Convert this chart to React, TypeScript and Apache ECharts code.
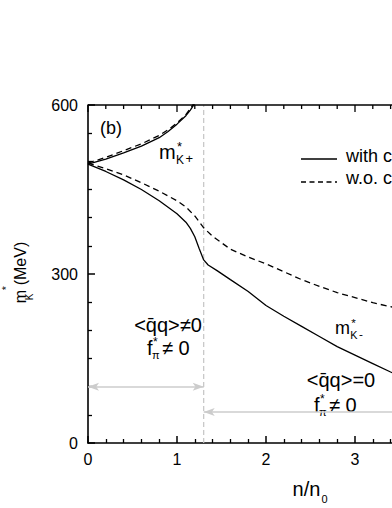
import React, { useEffect, useRef } from "react";
import * as echarts from "echarts";

const FONT = '"Liberation Sans", Arial, Helvetica, sans-serif';

// n/n0 vs effective kaon mass (MeV)
const kPlusWith: [number, number][] = [
  [0, 495], [0.2, 504], [0.4, 515], [0.6, 527], [0.8, 542], [0.9, 553],
  [1.0, 566], [1.1, 581], [1.15, 591], [1.2, 603],
];
const kPlusWithout: [number, number][] = [
  [0, 497], [0.2, 507], [0.4, 519], [0.6, 531], [0.8, 546], [0.9, 556],
  [1.0, 568], [1.1, 583], [1.19, 603],
];
const kMinusWith: [number, number][] = [
  [0, 495], [0.2, 482], [0.4, 467], [0.6, 450], [0.8, 430], [1.0, 407],
  [1.1, 392], [1.15, 381], [1.2, 366], [1.25, 345], [1.3, 325], [1.35, 316],
  [1.45, 306], [1.6, 290], [1.8, 269], [2.0, 244], [2.2, 225], [2.4, 207],
  [2.6, 189], [2.8, 171], [3.0, 156], [3.2, 141], [3.4, 126], [3.6, 112],
  [3.8, 99], [4.0, 87],
];
const kMinusWithout: [number, number][] = [
  [0, 497], [0.2, 487], [0.4, 476], [0.6, 462], [0.8, 447], [1.0, 430],
  [1.1, 419], [1.2, 403], [1.3, 382], [1.4, 367], [1.6, 344], [1.8, 330],
  [2.0, 318], [2.2, 304], [2.4, 290], [2.6, 278], [2.8, 267], [3.0, 258],
  [3.2, 249], [3.4, 242], [3.6, 235], [3.8, 228], [4.0, 222],
];
const transitionDensity = 1.3;
const leftArrowLevel = 100;
const rightArrowLevel = 55;
const xRange = [0, 4];
const yRange = [0, 600];
const xMajor = 1;
const yMajor = 300;
const xMajorTicks = [0, 1, 2, 3, 4];
const xMinorTicks = [0.2, 0.4, 0.6, 0.8, 1.2, 1.4, 1.6, 1.8, 2.2, 2.4, 2.6, 2.8, 3.2, 3.4, 3.6, 3.8];
const yMajorTicks = [0, 300, 600];
const yMinorTicks = [50, 100, 150, 200, 250, 350, 400, 450, 500, 550];
const legendNames = ["with c", "w.o. c"];

const CHART_W = 460;
const GRID = { left: 88, top: 105, right: CHART_W - 444, bottom: 65 };

const txt = (x: number, y: number, text: string, size: number, align = "left", extra: any = {}) => ({
  type: "text",
  x,
  y,
  silent: true,
  ...extra,
  style: {
    text,
    fontSize: size,
    fontFamily: FONT,
    fill: "#000",
    align,
    verticalAlign: "middle",
    textAlign: align,
    textVerticalAlign: "middle",
  },
});

const mk = (x: number, y: number, s: number, sign: string) => [
  txt(x, y, "m", s),
  txt(x + 0.85 * s + 1, y - 0.3 * s, "*", 0.65 * s),
  txt(x + 0.85 * s, y + 0.4 * s, "K", 0.6 * s),
  txt(x + 0.85 * s + 0.48 * s, y + 0.3 * s, sign, 0.65 * s),
];

const fpi = (x: number, y: number, s: number) => [
  txt(x, y, "f", s),
  txt(x + 6, y - 6, "*", 12),
  txt(x + 5, y + 7, "π", 11),
  txt(x + 15, y, "≠ 0", s),
];

const makeAxis = (range: number[], interval: number, minorSplit: number, position: string, margin: number, hideMax: boolean) => ({
  type: "value",
  min: range[0],
  max: range[1],
  interval,
  position,
  axisLine: { show: true, onZero: false, lineStyle: { color: "#000", width: 1.6 } },
  axisTick: { show: true, inside: true, length: 7, lineStyle: { color: "#000", width: 1.5 } },
  minorTick: { show: true, splitNumber: minorSplit, length: 4, lineStyle: { color: "#000", width: 1.3 } },
  splitLine: { show: false },
  axisLabel: {
    show: true,
    showMaxLabel: !hideMax,
    fontSize: 16,
    color: "#000",
    fontFamily: FONT,
    margin,
  },
});

export default function App() {
  const ref = useRef<HTMLDivElement>(null);
  useEffect(() => {
    if (!ref.current) return;
    const chart = echarts.init(ref.current, null, { renderer: "svg" });
    const lineBase = { type: "line", showSymbol: false, symbol: "none" };
    const option: any = {
      animation: false,
      grid: GRID,
      xAxis: makeAxis(xRange, xMajor, 5, "bottom", 8, true),
      yAxis: makeAxis(yRange, yMajor, 6, "left", 10, false),
      series: [
        {
          ...lineBase,
          name: "transition",
          data: [[transitionDensity, yRange[0]], [transitionDensity, yRange[1]]],
          lineStyle: { color: "#c4c4c4", width: 1.2, type: [5, 3] },
          markLine: {
            silent: true,
            symbol: ["arrow", "arrow"],
            symbolSize: [6, 11],
            label: { show: false },
            lineStyle: { color: "#cccccc", width: 1.5, type: "solid" },
            data: [
              [{ coord: [xRange[0], leftArrowLevel] }, { coord: [transitionDensity, leftArrowLevel] }],
              [{ coord: [transitionDensity, rightArrowLevel] }, { coord: [xRange[1], rightArrowLevel] }],
            ],
          },
        },
        { ...lineBase, name: legendNames[0] + " K+", data: kPlusWith, lineStyle: { color: "#000", width: 1.3 } },
        { ...lineBase, name: legendNames[1] + " K+", data: kPlusWithout, lineStyle: { color: "#000", width: 1.3, type: [6, 4] } },
        { ...lineBase, name: legendNames[0] + " K-", data: kMinusWith, lineStyle: { color: "#000", width: 1.3 } },
        { ...lineBase, name: legendNames[1] + " K-", data: kMinusWithout, lineStyle: { color: "#000", width: 1.3, type: [6, 4] } },
      ],
    };
    chart.setOption(option);

    // mirrored frame (top / right) placed through the grid's coordinate conversion
    const plotW = CHART_W - GRID.left - GRID.right;
    const plotH = 508 - GRID.top - GRID.bottom;
    const toPx = (x: number, y: number): number[] => {
      let p: any = null;
      try {
        p = chart.convertToPixel({ xAxisIndex: 0, yAxisIndex: 0 } as any, [x, y]);
      } catch (e) {
        p = null;
      }
      if (p && isFinite(p[0]) && isFinite(p[1])) return p;
      return [
        GRID.left + ((x - xRange[0]) / (xRange[1] - xRange[0])) * plotW,
        GRID.top + plotH - ((y - yRange[0]) / (yRange[1] - yRange[0])) * plotH,
      ];
    };
    const seg = (x1: number, y1: number, x2: number, y2: number, w = 1.3) => ({
      type: "line",
      silent: true,
      z: 100,
      shape: { x1, y1, x2, y2 },
      style: { stroke: "#000", lineWidth: w },
    });
    const frame: any[] = [];
    const tl = toPx(xRange[0], yRange[1]);
    const tr = toPx(xRange[1], yRange[1]);
    const br = toPx(xRange[1], yRange[0]);
    frame.push(seg(tl[0], tl[1], tr[0], tr[1], 1.6));
    frame.push(seg(tr[0], tr[1], br[0], br[1], 1.6));
    const addX = (vals: number[], len: number) =>
      vals.forEach((v) => {
        const t = toPx(v, yRange[1]);
        frame.push(seg(t[0], t[1], t[0], t[1] + len));
      });
    const addY = (vals: number[], len: number) =>
      vals.forEach((v) => {
        const r = toPx(xRange[1], v);
        frame.push(seg(r[0], r[1], r[0] - len, r[1]));
      });
    addX(xMajorTicks, 7);
    addX(xMinorTicks, 4);
    addY(yMajorTicks, 7);
    addY(yMinorTicks, 4);

    chart.setOption({
      graphic: [
        ...frame,
        // y-axis title, rotated
        txt(20, 296.5, "m", 16, "center", { rotation: Math.PI / 2 }),
        txt(6, 288, "*", 11, "center", { rotation: Math.PI / 2 }),
        txt(29.5, 297, "K", 10, "center", { rotation: Math.PI / 2 }),
        txt(20, 263.5, "(MeV)", 16, "center", { rotation: Math.PI / 2 }),
        // x-axis title
        txt(306.5, 489, "n/n", 20, "center"),
        txt(324.5, 498.5, "0", 11, "center"),
        // panel tag
        txt(100, 128, "(b)", 18),
        // curve labels
        ...mk(159, 152, 20, "+"),
        ...mk(335, 328, 18, "-"),
        // annotations
        txt(168, 325, "<q\u0304q>≠0", 20, "center"),
        ...fpi(147, 348, 20),
        txt(341, 380, "<q\u0304q>=0", 20, "center"),
        ...fpi(314, 405, 20),
        // legend
        { type: "line", silent: true, shape: { x1: 301, y1: 159, x2: 337, y2: 159 }, style: { stroke: "#000", lineWidth: 1.3 } },
        { type: "line", silent: true, shape: { x1: 301, y1: 182, x2: 337, y2: 182 }, style: { stroke: "#000", lineWidth: 1.3, lineDash: [5, 3.5] } },
        txt(346, 156, legendNames[0], 18),
        txt(346, 178, legendNames[1], 18),
      ],
    } as any);
    return () => chart.dispose();
  }, []);
  return (
    <div style={{ position: "fixed", left: 0, top: 0, width: 392, height: 508, overflow: "hidden", background: "#fff" }}>
      <div ref={ref} style={{ width: CHART_W, height: 508 }} />
    </div>
  );
}
